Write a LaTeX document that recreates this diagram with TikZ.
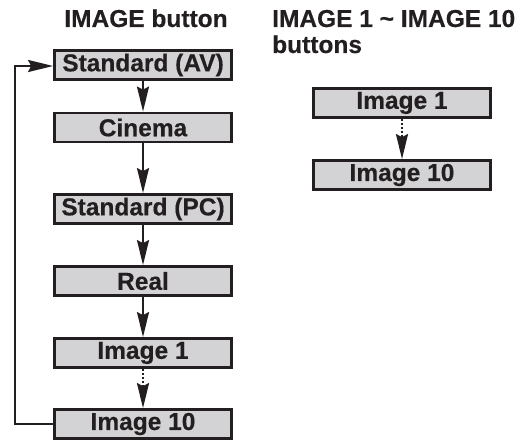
\documentclass[tikz,border=0pt]{standalone}
\usepackage{fontspec}
\setmainfont{Liberation Sans}
\newfontfamily\heavyfont[FakeBold=0.4]{Liberation Sans Bold}
\usetikzlibrary{arrows.meta}
\definecolor{boxfill}{RGB}{211,211,213}
\definecolor{ink}{RGB}{35,31,32}
\tikzset{
  modebox/.style={draw=ink, fill=boxfill, line width=2.8pt, minimum width=177pt, minimum height=29pt, inner sep=0pt, font=\heavyfont\fontsize{24.5}{28}\selectfont, text=ink},
  titletext/.style={inner sep=0pt, font=\heavyfont\fontsize{24.5}{28}\selectfont, text=ink},
  flow/.style={draw=ink, line width=2pt, -{Stealth[length=25pt, width=12pt, inset=3pt]}},
  dotflow/.style={flow, dash pattern=on 2pt off 2pt},
}
\begin{document}
\begin{tikzpicture}[x=1pt, y=-1pt]
\useasboundingbox (0,0) rectangle (521,441);
\node[titletext, anchor=base] (t1) at (146,27) {IMAGE button};
\node[titletext, anchor=base west] (t2a) at (272,27) {IMAGE 1 \textasciitilde\ IMAGE 10};
\node[titletext, anchor=base west] (t2b) at (272,53) {buttons};

\node[modebox] (sav) at (143,65) {Standard (AV)};
\node[modebox] (cin) at (143,127.5) {Cinema};
\node[modebox] (spc) at (143,209) {Standard (PC)};
\node[modebox] (real) at (143,281) {Real};
\node[modebox] (im1) at (143,353) {Image 1};
\node[modebox] (im10) at (143,424) {Image 10};

\node[modebox] (rim1) at (402,103) {Image 1};
\node[modebox] (rim10) at (402,175) {Image 10};

\coordinate (c1) at (15,424);
\coordinate (c2) at (15,66);

\draw[flow] (sav) -- (cin);
\draw[flow] (cin) -- (spc);
\draw[flow] (spc) -- (real);
\draw[flow] (real) -- (im1);
\draw[dotflow] (im1) -- (im10);
\draw[dotflow] (rim1) -- (rim10);
\draw[flow] (im10.west) -- (c1) -- (c2) -- (sav.west |- c2);
\end{tikzpicture}
\end{document}
